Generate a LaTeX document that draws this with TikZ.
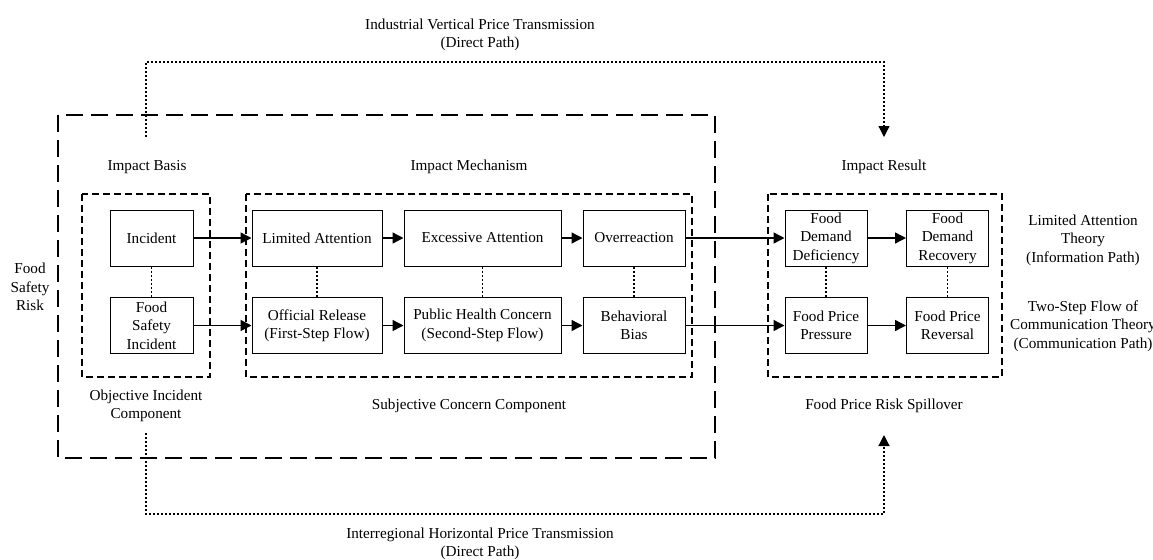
\documentclass[tikz,border=0pt]{standalone}
\usepackage{fontspec}
\setmainfont{Liberation Serif}
\usetikzlibrary{arrows.meta}

\begin{document}
\begin{tikzpicture}[x=0.5pt, y=-0.5pt,
    every node/.style={font=\fontsize{7.6}{9.2}\selectfont, align=center, inner sep=0pt},
    stepbox/.style={draw=borderColour, line width=0.5pt, minimum height=28pt},
    grpbox/.style={draw=borderColour, line width=0.55pt, dash pattern=on 3.5pt off 2pt},
    outerbox/.style={draw=borderColour, line width=0.55pt, dash pattern=on 8.5pt off 4pt},
    flow/.style={-{Triangle[length=5.5pt,width=5.5pt]}, line width=0.7pt},
    link/.style={line width=0.6pt, dash pattern=on 1pt off 1pt},
    pathArrow/.style={-{Triangle[length=5.5pt,width=5.5pt]}, line width=0.6pt, dash pattern=on 1pt off 1pt}]
    \definecolor{borderColour}{HTML}{000000}

    \useasboundingbox (0,0) rectangle (1153,559);

    % Draw group boxes
    \draw[outerbox] (58,115) rectangle (715,458);
    \draw[grpbox] (82,194) rectangle (210,377);
    \draw[grpbox] (246,194) rectangle (692,377);
    \draw[grpbox] (768,194) rectangle (1002,377);

    % Impact basis
    \node[stepbox, minimum width=41.5pt] (incident) at (151.5,238) {Incident};
    \node[stepbox, minimum width=41.5pt] (fsIncident) at (151.5,325.5) {Food\\Safety\\Incident};

    % Impact mechanism
    \node[stepbox, minimum width=65pt] (limAtt) at (317,238) {Limited Attention};
    \node[stepbox, minimum width=78.5pt] (excAtt) at (482.5,238) {Excessive Attention};
    \node[stepbox, minimum width=51pt] (overreact) at (634,238) {Overreaction};
    \node[stepbox, minimum width=65pt] (offRelease) at (317,325.5) {Official Release\\(First-Step Flow)};
    \node[stepbox, minimum width=78.5pt] (pubHealth) at (482.5,325.5) {Public Health Concern\\(Second-Step Flow)};
    \node[stepbox, minimum width=51pt] (behBias) at (634,325.5) {Behavioral\\Bias};

    % Impact result
    \node[stepbox, minimum width=41pt] (demDef) at (826,238) {Food\\Demand\\Deficiency};
    \node[stepbox, minimum width=41pt] (demRec) at (947.5,238) {Food\\Demand\\Recovery};
    \node[stepbox, minimum width=41pt] (pricePress) at (826,325.5) {Food Price\\Pressure};
    \node[stepbox, minimum width=41pt] (priceRev) at (947.5,325.5) {Food Price\\Reversal};

    % Arrows
    \draw[flow] (incident) -- (limAtt);
    \draw[flow] (limAtt) -- (excAtt);
    \draw[flow] (excAtt) -- (overreact);
    \draw[flow] (overreact) -- (demDef);
    \draw[flow] (demDef) -- (demRec);
    \draw[flow] (fsIncident) -- (offRelease);
    \draw[flow] (offRelease) -- (pubHealth);
    \draw[flow] (pubHealth) -- (behBias);
    \draw[flow] (behBias) -- (pricePress);
    \draw[flow] (pricePress) -- (priceRev);

    % Dotted links
    \draw[link] (incident) -- (fsIncident);
    \draw[link] (limAtt) -- (offRelease);
    \draw[link] (excAtt) -- (pubHealth);
    \draw[link] (overreact) -- (behBias);
    \draw[link] (demDef) -- (pricePress);
    \draw[link] (demRec) -- (priceRev);

    % Headings and captions
    \node (basisHead) at (147,167) {Impact Basis};
    \node (mechHead) at (469,167) {Impact Mechanism};
    \node (resultHead) at (884,167) {Impact Result};
    \node (objComp) at (146,406) {Objective Incident\\Component};
    \node (subjComp) at (469,406) {Subjective Concern Component};
    \node (spillover) at (884,406) {Food Price Risk Spillover};
    \node (riskLabel) at (30,287) {Food\\Safety\\Risk};
    \node (infoPath) at (1083,240) {Limited Attention\\Theory\\(Information Path)};
    \node (commPath) at (1083,326) {Two-Step Flow of\\Communication Theory\\(Communication Path)};

    % Direct paths
    \coordinate (topStart) at (146,137);
    \coordinate (topEnd) at (884,137);
    \coordinate (botStart) at (146,433);
    \coordinate (botEnd) at (884,435);
    \draw[pathArrow] (topStart) -- (146,62) -- (884,62) -- (topEnd);
    \draw[pathArrow] (botStart) -- (146,514) -- (884,514) -- (botEnd);
    \node (vertTrans) at (480,35) {Industrial Vertical Price Transmission\\(Direct Path)};
    \node (horTrans) at (480,544) {Interregional Horizontal Price Transmission\\(Direct Path)};

\end{tikzpicture}
\end{document}
